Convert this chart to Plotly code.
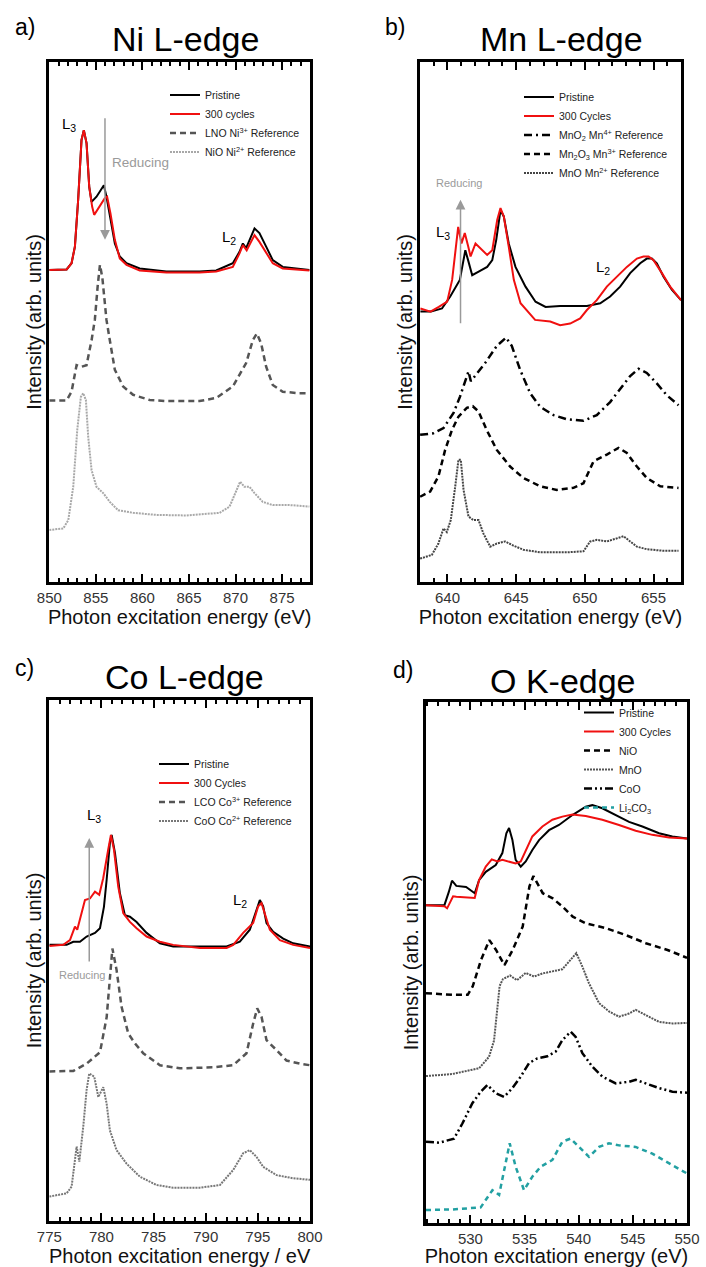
import plotly.graph_objects as go

FONT = "Liberation Sans, Arial, Helvetica, sans-serif"
W, H = 706, 1267

# ---------------- Panel a: Ni L-edge ----------------
ni_pristine_x = [850.0, 851.86, 852.39, 852.75, 853.1, 853.46, 853.71, 854.0, 854.29, 854.54, 855.07, 855.6, 855.86, 856.14, 856.5, 857.04, 857.57, 858.29, 859.71, 862.57, 866.14, 867.93, 869.71, 870.43, 870.79, 871.14, 872.04, 872.57, 873.29, 874.0, 875.07, 876.86, 877.93]
ni_pristine_y = [60.0, 60.1, 61.3, 64.5, 73.5, 85.0, 86.9, 84.4, 76.0, 73.1, 74.1, 75.7, 76.3, 74.1, 70.3, 65.1, 62.6, 61.3, 60.3, 59.7, 59.7, 59.9, 61.3, 63.5, 65.1, 64.2, 68.0, 67.1, 64.5, 61.9, 60.6, 60.3, 60.0]
ni_cycled_x = [850.0, 851.86, 852.39, 852.75, 853.1, 853.46, 853.71, 854.0, 854.29, 854.6, 854.82, 855.43, 855.96, 856.21, 856.57, 857.04, 857.57, 858.29, 859.71, 862.57, 866.14, 867.93, 869.71, 870.43, 870.79, 871.2, 872.04, 872.57, 873.29, 874.0, 875.07, 876.86, 877.93]
ni_cycled_y = [60.0, 60.1, 61.3, 64.5, 73.5, 85.0, 86.9, 84.4, 76.0, 72.2, 70.6, 72.2, 73.8, 74.1, 70.9, 65.8, 62.2, 61.0, 59.9, 59.5, 59.5, 59.7, 60.6, 63.2, 64.8, 63.8, 66.7, 65.4, 63.2, 61.3, 60.3, 60.0, 59.9]
lno_x = [850.0, 851.86, 852.39, 852.93, 853.46, 854.0, 854.54, 854.89, 855.2, 855.44, 855.7, 856.14, 856.5, 857.04, 857.93, 859.0, 860.79, 862.57, 866.14, 867.93, 869.71, 871.14, 871.86, 872.29, 872.75, 873.29, 874.0, 875.07, 876.86, 877.93]
lno_y = [34.9, 34.9, 36.6, 41.7, 41.4, 41.7, 46.5, 50.4, 57.0, 61.0, 58.5, 50.4, 46.5, 40.8, 37.6, 36.0, 35.0, 34.8, 34.8, 35.4, 37.6, 42.1, 46.5, 47.8, 45.9, 41.4, 37.9, 36.6, 36.3, 36.3]
nio_ni_x = [850.0, 851.5, 852.04, 852.57, 853.0, 853.39, 853.64, 853.93, 854.18, 854.54, 855.07, 855.79, 856.5, 857.39, 859.0, 861.5, 864.71, 868.29, 869.36, 870.07, 870.5, 870.96, 871.5, 872.04, 872.93, 874.0, 875.79, 877.93]
nio_ni_y = [10.0, 10.3, 11.9, 18.3, 29.2, 35.6, 36.3, 35.0, 27.9, 21.5, 18.3, 17.1, 15.4, 13.8, 13.3, 12.9, 12.8, 13.3, 14.5, 17.7, 19.3, 18.3, 18.3, 17.1, 15.4, 14.8, 14.8, 14.5]

# ---------------- Panel b: Mn L-edge ----------------
mn_pristine_x = [638.03, 638.8, 639.6, 640.2, 640.9, 641.1, 641.3, 641.5, 641.8, 642.27, 642.89, 643.26, 643.55, 643.86, 644.1, 644.46, 644.95, 645.68, 646.41, 647.14, 648.2, 650.15, 651.12, 651.84, 652.57, 653.3, 654.03, 654.51, 654.88, 655.24, 655.73, 656.33, 657.0]
mn_pristine_y = [52.0, 52.0, 52.6, 54.9, 58.1, 60.6, 63.8, 61.9, 59.0, 59.7, 60.6, 61.9, 65.8, 71.5, 70.3, 65.1, 60.6, 56.8, 53.9, 52.9, 53.1, 53.1, 53.6, 54.9, 56.8, 59.4, 61.3, 62.2, 62.2, 61.3, 58.7, 56.2, 54.2]
mn_cycled_x = [638.03, 638.76, 639.37, 639.98, 640.34, 640.63, 640.78, 641.02, 641.26, 641.51, 641.68, 642.04, 642.4, 642.89, 643.26, 643.62, 643.86, 644.1, 644.46, 644.83, 645.32, 645.92, 646.38, 647.48, 648.2, 648.93, 649.66, 650.15, 650.87, 651.6, 652.33, 653.06, 653.79, 654.27, 654.64, 655.0, 655.61, 656.21, 657.0]
mn_cycled_y = [52.6, 52.0, 52.9, 53.9, 58.1, 64.5, 68.3, 65.1, 67.1, 64.5, 62.6, 65.1, 64.2, 62.9, 63.8, 69.6, 71.9, 70.3, 64.5, 58.1, 53.6, 51.7, 50.4, 50.1, 49.4, 49.7, 50.7, 52.3, 54.2, 56.8, 58.7, 60.6, 62.2, 62.6, 62.6, 61.9, 59.4, 56.8, 54.2]
mno2_x = [638.01, 638.98, 639.71, 640.44, 640.92, 641.29, 641.53, 641.7, 642.01, 642.74, 643.59, 644.27, 644.68, 645.29, 646.02, 646.75, 647.72, 648.69, 649.9, 650.87, 651.84, 652.57, 653.3, 653.91, 654.51, 655.24, 655.97, 656.82]
mno2_y = [28.3, 28.6, 29.6, 32.5, 35.7, 38.9, 40.5, 38.6, 39.6, 42.1, 45.4, 47.0, 45.4, 40.8, 36.3, 33.7, 32.1, 31.3, 31.0, 32.1, 34.6, 37.2, 39.6, 41.0, 40.2, 38.2, 35.9, 34.0]
mn2o3_x = [638.01, 638.74, 639.34, 639.83, 640.32, 640.8, 641.41, 641.84, 642.26, 642.86, 643.59, 644.56, 645.53, 646.75, 647.96, 649.17, 649.9, 650.63, 651.6, 652.45, 653.06, 653.79, 654.51, 655.49, 656.82]
mn2o3_y = [16.4, 17.4, 20.3, 25.4, 29.2, 31.8, 33.5, 33.8, 32.8, 29.2, 25.4, 22.2, 20.0, 18.4, 17.7, 18.1, 19.0, 23.2, 24.5, 25.8, 24.8, 22.2, 20.0, 18.4, 18.1]
mno_mn_x = [638.01, 638.86, 639.34, 639.71, 639.95, 640.24, 640.56, 640.8, 640.97, 641.17, 641.53, 641.89, 642.26, 642.62, 643.11, 643.59, 644.2, 644.8, 645.53, 646.75, 648.69, 649.9, 650.39, 650.87, 651.6, 652.33, 652.82, 653.3, 653.79, 654.51, 655.73, 656.82]
mno_mn_y = [4.5, 5.2, 7.4, 10.3, 9.6, 11.9, 18.3, 23.5, 23.5, 17.7, 12.6, 11.9, 11.9, 9.3, 6.8, 7.4, 7.8, 7.0, 6.2, 5.7, 5.7, 5.9, 7.8, 8.1, 7.8, 8.4, 8.8, 7.8, 6.8, 6.3, 6.0, 6.0]

# ---------------- Panel c: Co L-edge ----------------
co_pristine_x = [775.0, 776.66, 777.3, 777.94, 778.58, 779.38, 779.86, 780.24, 780.5, 780.81, 780.98, 781.3, 781.77, 782.25, 782.73, 783.37, 784.33, 785.6, 786.88, 789.44, 792.0, 793.27, 794.23, 794.87, 795.19, 795.51, 795.83, 796.47, 797.43, 798.39, 800.0]
co_pristine_y = [53.0, 53.0, 53.6, 53.6, 54.6, 55.3, 56.2, 60.3, 65.5, 72.5, 74.1, 70.6, 62.9, 58.7, 58.4, 57.4, 55.3, 53.3, 52.7, 52.7, 52.7, 53.6, 55.9, 59.7, 61.6, 60.4, 57.2, 55.5, 54.2, 53.3, 52.7]
co_cycled_x = [775.0, 776.34, 776.98, 777.46, 777.68, 778.1, 778.42, 778.9, 779.38, 779.79, 780.17, 780.65, 780.91, 781.2, 781.61, 782.09, 782.73, 783.37, 784.33, 785.6, 786.88, 789.44, 792.0, 792.64, 793.59, 794.55, 795.03, 795.35, 795.67, 796.15, 797.11, 798.39, 800.0]
co_cycled_y = [52.8, 53.0, 53.9, 56.5, 55.9, 59.1, 61.6, 61.9, 63.2, 62.6, 65.8, 71.3, 74.1, 71.3, 64.2, 59.1, 57.4, 56.2, 54.6, 53.6, 53.0, 52.4, 52.4, 53.0, 55.3, 57.2, 60.4, 61.0, 59.1, 55.9, 53.9, 53.0, 52.4]
lco_x = [775.0, 777.3, 778.58, 779.86, 780.5, 780.91, 781.05, 781.45, 781.93, 782.57, 783.21, 784.01, 785.61, 787.52, 790.72, 792.64, 793.91, 794.55, 794.94, 795.35, 795.83, 796.79, 797.75, 799.03, 800.0]
lco_y = [28.7, 28.8, 30.2, 32.4, 39.1, 49.3, 52.3, 48.2, 41.1, 36.0, 34.1, 32.2, 29.9, 29.3, 29.5, 29.9, 32.2, 37.9, 40.8, 39.2, 34.7, 32.8, 30.8, 30.2, 29.9]
coo_co_x = [775.0, 776.66, 777.14, 777.46, 777.62, 777.88, 778.26, 778.58, 778.83, 779.31, 779.7, 780.18, 780.5, 780.81, 781.45, 782.41, 783.69, 785.29, 786.88, 789.44, 791.36, 792.64, 793.59, 794.23, 794.87, 795.51, 796.79, 798.39, 800.0]
coo_co_y = [4.7, 5.3, 6.6, 11.7, 14.3, 11.4, 18.2, 25.2, 28.3, 27.7, 23.8, 25.7, 22.5, 17.4, 13.6, 11.0, 8.5, 6.9, 6.4, 6.4, 6.9, 9.8, 13.0, 13.6, 12.3, 10.4, 8.8, 8.2, 7.9]

# ---------------- Panel d: O K-edge ----------------
o_pristine_x = [525.9, 527.6, 528.0, 528.3, 528.7, 529.6, 530.4, 530.8, 531.42, 532.34, 532.95, 533.32, 533.57, 533.88, 534.18, 534.65, 535.11, 535.72, 536.34, 537.26, 538.18, 539.42, 540.65, 541.26, 542.18, 543.42, 544.65, 545.88, 547.42, 548.65, 550.0]
o_pristine_y = [61.0, 61.0, 63.5, 65.7, 64.7, 64.5, 63.3, 65.8, 67.4, 68.7, 71.0, 74.8, 75.8, 73.5, 69.7, 68.4, 69.4, 71.6, 73.5, 75.4, 76.4, 78.3, 79.9, 80.2, 79.6, 78.3, 77.0, 76.1, 74.8, 74.2, 73.8]
o_cycled_x = [525.9, 527.6, 527.85, 528.4, 528.7, 530.4, 530.8, 531.42, 531.97, 532.49, 532.95, 533.57, 534.18, 534.65, 535.11, 535.72, 536.65, 537.57, 538.49, 539.42, 540.65, 542.18, 543.72, 545.26, 546.8, 548.34, 550.0]
o_cycled_y = [61.0, 60.8, 60.4, 62.7, 62.6, 62.4, 65.8, 68.4, 69.8, 69.4, 69.7, 69.4, 69.0, 69.4, 71.6, 74.2, 76.1, 77.4, 78.0, 78.4, 78.1, 77.4, 76.4, 75.3, 74.5, 74.0, 73.8]
o_nio_x = [525.9, 528.37, 529.75, 530.21, 530.98, 531.75, 532.37, 533.14, 533.9, 534.83, 535.45, 535.82, 536.68, 537.6, 538.52, 539.45, 540.68, 541.9, 542.5, 544.3, 546.2, 548.2, 550.0]
o_nio_y = [44.1, 43.8, 43.8, 45.4, 50.5, 54.3, 52.4, 49.5, 52.4, 56.9, 64.6, 66.6, 63.3, 62.3, 60.7, 58.8, 57.5, 56.9, 56.6, 55.3, 53.7, 52.4, 50.9]
o_mno_x = [525.9, 528.34, 530.8, 531.72, 532.18, 532.45, 532.7, 533.0, 533.66, 534.3, 535.11, 535.88, 536.65, 537.57, 538.49, 539.11, 539.78, 540.34, 540.95, 541.88, 542.8, 543.72, 544.65, 545.26, 546.18, 547.42, 548.65, 550.0]
o_mno_y = [28.2, 28.6, 29.7, 31.9, 35.0, 40.5, 45.5, 46.8, 47.5, 46.6, 48.0, 47.3, 47.9, 48.3, 48.7, 50.2, 51.8, 49.2, 46.0, 42.2, 40.6, 39.6, 40.2, 40.9, 39.9, 38.6, 38.3, 38.4]
o_coo_x = [525.9, 527.11, 528.49, 529.26, 530.18, 530.95, 531.57, 532.34, 533.11, 533.88, 534.65, 535.42, 536.18, 537.11, 537.88, 538.49, 539.26, 539.72, 540.34, 541.26, 542.18, 543.42, 544.65, 545.26, 546.18, 547.42, 548.65, 550.0]
o_coo_y = [15.6, 15.4, 16.2, 19.1, 23.0, 25.2, 26.5, 24.9, 24.2, 25.9, 28.1, 30.7, 31.6, 32.0, 32.9, 35.1, 36.7, 35.7, 32.6, 30.0, 28.1, 26.8, 27.1, 27.5, 26.8, 25.9, 25.2, 25.0]
o_li2co3_x = [525.9, 528.34, 530.95, 531.42, 532.03, 532.65, 533.11, 533.63, 534.18, 534.95, 535.72, 536.49, 537.57, 538.49, 539.26, 540.03, 540.95, 541.88, 542.8, 543.72, 545.26, 546.8, 548.34, 550.0]
o_li2co3_y = [2.5, 2.6, 3.0, 4.4, 6.3, 5.4, 10.2, 15.3, 10.8, 6.3, 8.9, 10.8, 12.1, 15.6, 16.2, 14.6, 12.7, 14.6, 15.3, 14.9, 14.6, 13.3, 11.4, 9.5]

# axis ranges / ticks
x_ranges = {"a": [850, 878], "b": [638, 657], "c": [775, 800], "d": [525.9, 550]}
x_titles = {"a": "Photon excitation energy (eV)", "b": "Photon excitation energy (eV)",
            "c": "Photon excitation energy / eV", "d": "Photon excitation energy (eV)"}
panel_titles = {"a": "Ni L-edge", "b": "Mn L-edge", "c": "Co L-edge", "d": "O K-edge"}

# plot boxes in page pixels (left, right, top, bottom)
boxes = {"a": (49.3, 310, 62, 582), "b": (420, 681, 62, 582),
         "c": (49.3, 310, 700, 1221), "d": (426, 687, 702, 1223)}

def px(xp):
    return xp / W

def py(yp):
    return 1 - yp / H

fig = go.Figure()

axis_ids = {"a": ("x", "y", "legend"), "b": ("x2", "y2", "legend2"),
            "c": ("x3", "y3", "legend3"), "d": ("x4", "y4", "legend4")}

def add(panel, x, y, name, color, width, dash="solid"):
    xa, ya, lg = axis_ids[panel]
    fig.add_trace(go.Scatter(x=x, y=y, mode="lines", name=name,
                             line=dict(color=color, width=width, dash=dash),
                             xaxis=xa, yaxis=ya, legend=lg, hoverinfo="skip"))

RED = "#f01010"
# a
add("a", ni_pristine_x, ni_pristine_y, "Pristine", "black", 2)
add("a", ni_cycled_x, ni_cycled_y, "300 cycles", RED, 2)
add("a", lno_x, lno_y, "LNO Ni<sup>3+</sup> Reference", "#555555", 2.5, "6px,4px")
add("a", nio_ni_x, nio_ni_y, "NiO Ni<sup>2+</sup> Reference", "#a8a8a8", 2, "2px,1px")
# b
add("b", mn_pristine_x, mn_pristine_y, "Pristine", "black", 2)
add("b", mn_cycled_x, mn_cycled_y, "300 Cycles", RED, 2)
add("b", mno2_x, mno2_y, "MnO<sub>2</sub> Mn<sup>4+</sup> Reference", "black", 2.5, "8px,4px,2px,4px")
add("b", mn2o3_x, mn2o3_y, "Mn<sub>2</sub>O<sub>3</sub> Mn<sup>3+</sup> Reference", "black", 2.5, "6px,4px")
add("b", mno_mn_x, mno_mn_y, "MnO Mn<sup>2+</sup> Reference", "#444444", 2, "2px,1px")
# c
add("c", co_pristine_x, co_pristine_y, "Pristine", "black", 2)
add("c", co_cycled_x, co_cycled_y, "300 Cycles", RED, 2)
add("c", lco_x, lco_y, "LCO Co<sup>3+</sup> Reference", "#555555", 2.5, "6px,4px")
add("c", coo_co_x, coo_co_y, "CoO Co<sup>2+</sup> Reference", "#777777", 2, "2px,1px")
# d
add("d", o_pristine_x, o_pristine_y, "Pristine", "black", 2)
add("d", o_cycled_x, o_cycled_y, "300 Cycles", RED, 2)
add("d", o_nio_x, o_nio_y, "NiO", "black", 2.5, "6px,4px")
add("d", o_mno_x, o_mno_y, "MnO", "#555555", 2, "2px,1px")
add("d", o_coo_x, o_coo_y, "CoO", "black", 2.5, "8px,3px,2px,3px,2px,3px")
add("d", o_li2co3_x, o_li2co3_y, "Li<sub>2</sub>CO<sub>3</sub>", "#22a0a2", 2.5, "5px,4px")

layout = dict(width=W, height=H, margin=dict(l=0, r=0, t=0, b=0),
              paper_bgcolor="white", plot_bgcolor="rgba(0,0,0,0)",
              font=dict(family=FONT, color="#222222"), showlegend=True)

for i, p in enumerate(["a", "b", "c", "d"]):
    l, r, t, b = boxes[p]
    sfx = "" if i == 0 else str(i + 1)
    layout["xaxis" + sfx] = dict(
        domain=[px(l), px(r)], range=x_ranges[p], anchor="y" + sfx,
        showline=True, linewidth=2.5, linecolor="black", mirror="allticks",
        ticks="inside", ticklen=8, tickwidth=2, tickcolor="black",
        dtick=5, tick0=0, showgrid=False, zeroline=False,
        minor=dict(ticks="inside", dtick=1, ticklen=4.5, tickwidth=1.5, tickcolor="black"),
        tickfont=dict(size=15, color="#333333"),
        title=dict(text=x_titles[p], font=dict(size=20, color="#111111"), standoff=0),
        automargin=False)
    layout["yaxis" + sfx] = dict(
        domain=[py(b), py(t)], range=[0, 100], anchor="x" + sfx,
        showline=True, linewidth=2.5, linecolor="black", mirror=True,
        ticks="", showticklabels=False, showgrid=False, zeroline=False,
        title=dict(text="Intensity (arb. units)", font=dict(size=20, color="#111111"), standoff=0),
        automargin=False)

legend_pos = {"legend": (165, 80.5), "legend2": (519, 82.5), "legend3": (154, 749.5), "legend4": (579, 698)}
for k, (lx, ly) in legend_pos.items():
    layout[k] = dict(x=px(lx), y=py(ly), xanchor="left", yanchor="top",
                     bgcolor="rgba(0,0,0,0)", borderwidth=0, tracegroupgap=0,
                     font=dict(size=10.5, color="#222222", family=FONT))

fig.update_layout(**layout)

ann = []
for text, x, y in [("a)", 25, 27), ("b)", 395, 27), ("c)", 24, 668), ("d)", 403, 670)]:
    ann.append(dict(text=text, x=px(x), y=py(y), xref="paper", yref="paper", showarrow=False,
                    font=dict(size=23, color="black"), xanchor="center", yanchor="middle"))
for p, (x, y) in zip(["a", "b", "c", "d"], [(185, 39), (561, 39), (184, 677), (563, 681)]):
    ann.append(dict(text=panel_titles[p], x=px(x), y=py(y), xref="paper", yref="paper", showarrow=False,
                    font=dict(size=34, color="black"), xanchor="center", yanchor="middle"))
for text, x, y in [("L<sub>3</sub>", 69, 124), ("L<sub>2</sub>", 229, 237),
                   ("L<sub>3</sub>", 443, 232), ("L<sub>2</sub>", 603, 267),
                   ("L<sub>3</sub>", 94, 815), ("L<sub>2</sub>", 240, 900)]:
    ann.append(dict(text=text, x=px(x), y=py(y), xref="paper", yref="paper", showarrow=False,
                    font=dict(size=15, color="black"), xanchor="center", yanchor="middle"))
for text, x, y, s in [("Reducing", 140, 162, 13.5), ("Reducing", 459, 183, 11), ("Reducing", 82, 975, 11)]:
    ann.append(dict(text=text, x=px(x), y=py(y), xref="paper", yref="paper", showarrow=False,
                    font=dict(size=s, color="#9a9a9a"), xanchor="center", yanchor="middle"))
for xr, yr, hx, hy, ay in [("x", "y", 855.98, 65.8, -123), ("x2", "y2", 640.95, 73.5, 125),
                           ("x3", "y3", 778.83, 73.5, 125)]:
    ann.append(dict(text="", x=hx, y=hy, xref=xr, yref=yr, ax=0, ay=ay, axref="pixel", ayref="pixel",
                    showarrow=True, arrowhead=2, arrowsize=1.3, arrowwidth=1.5, arrowcolor="#9a9a9a"))
fig.update_layout(annotations=ann)

fig.write_html("out.html")
